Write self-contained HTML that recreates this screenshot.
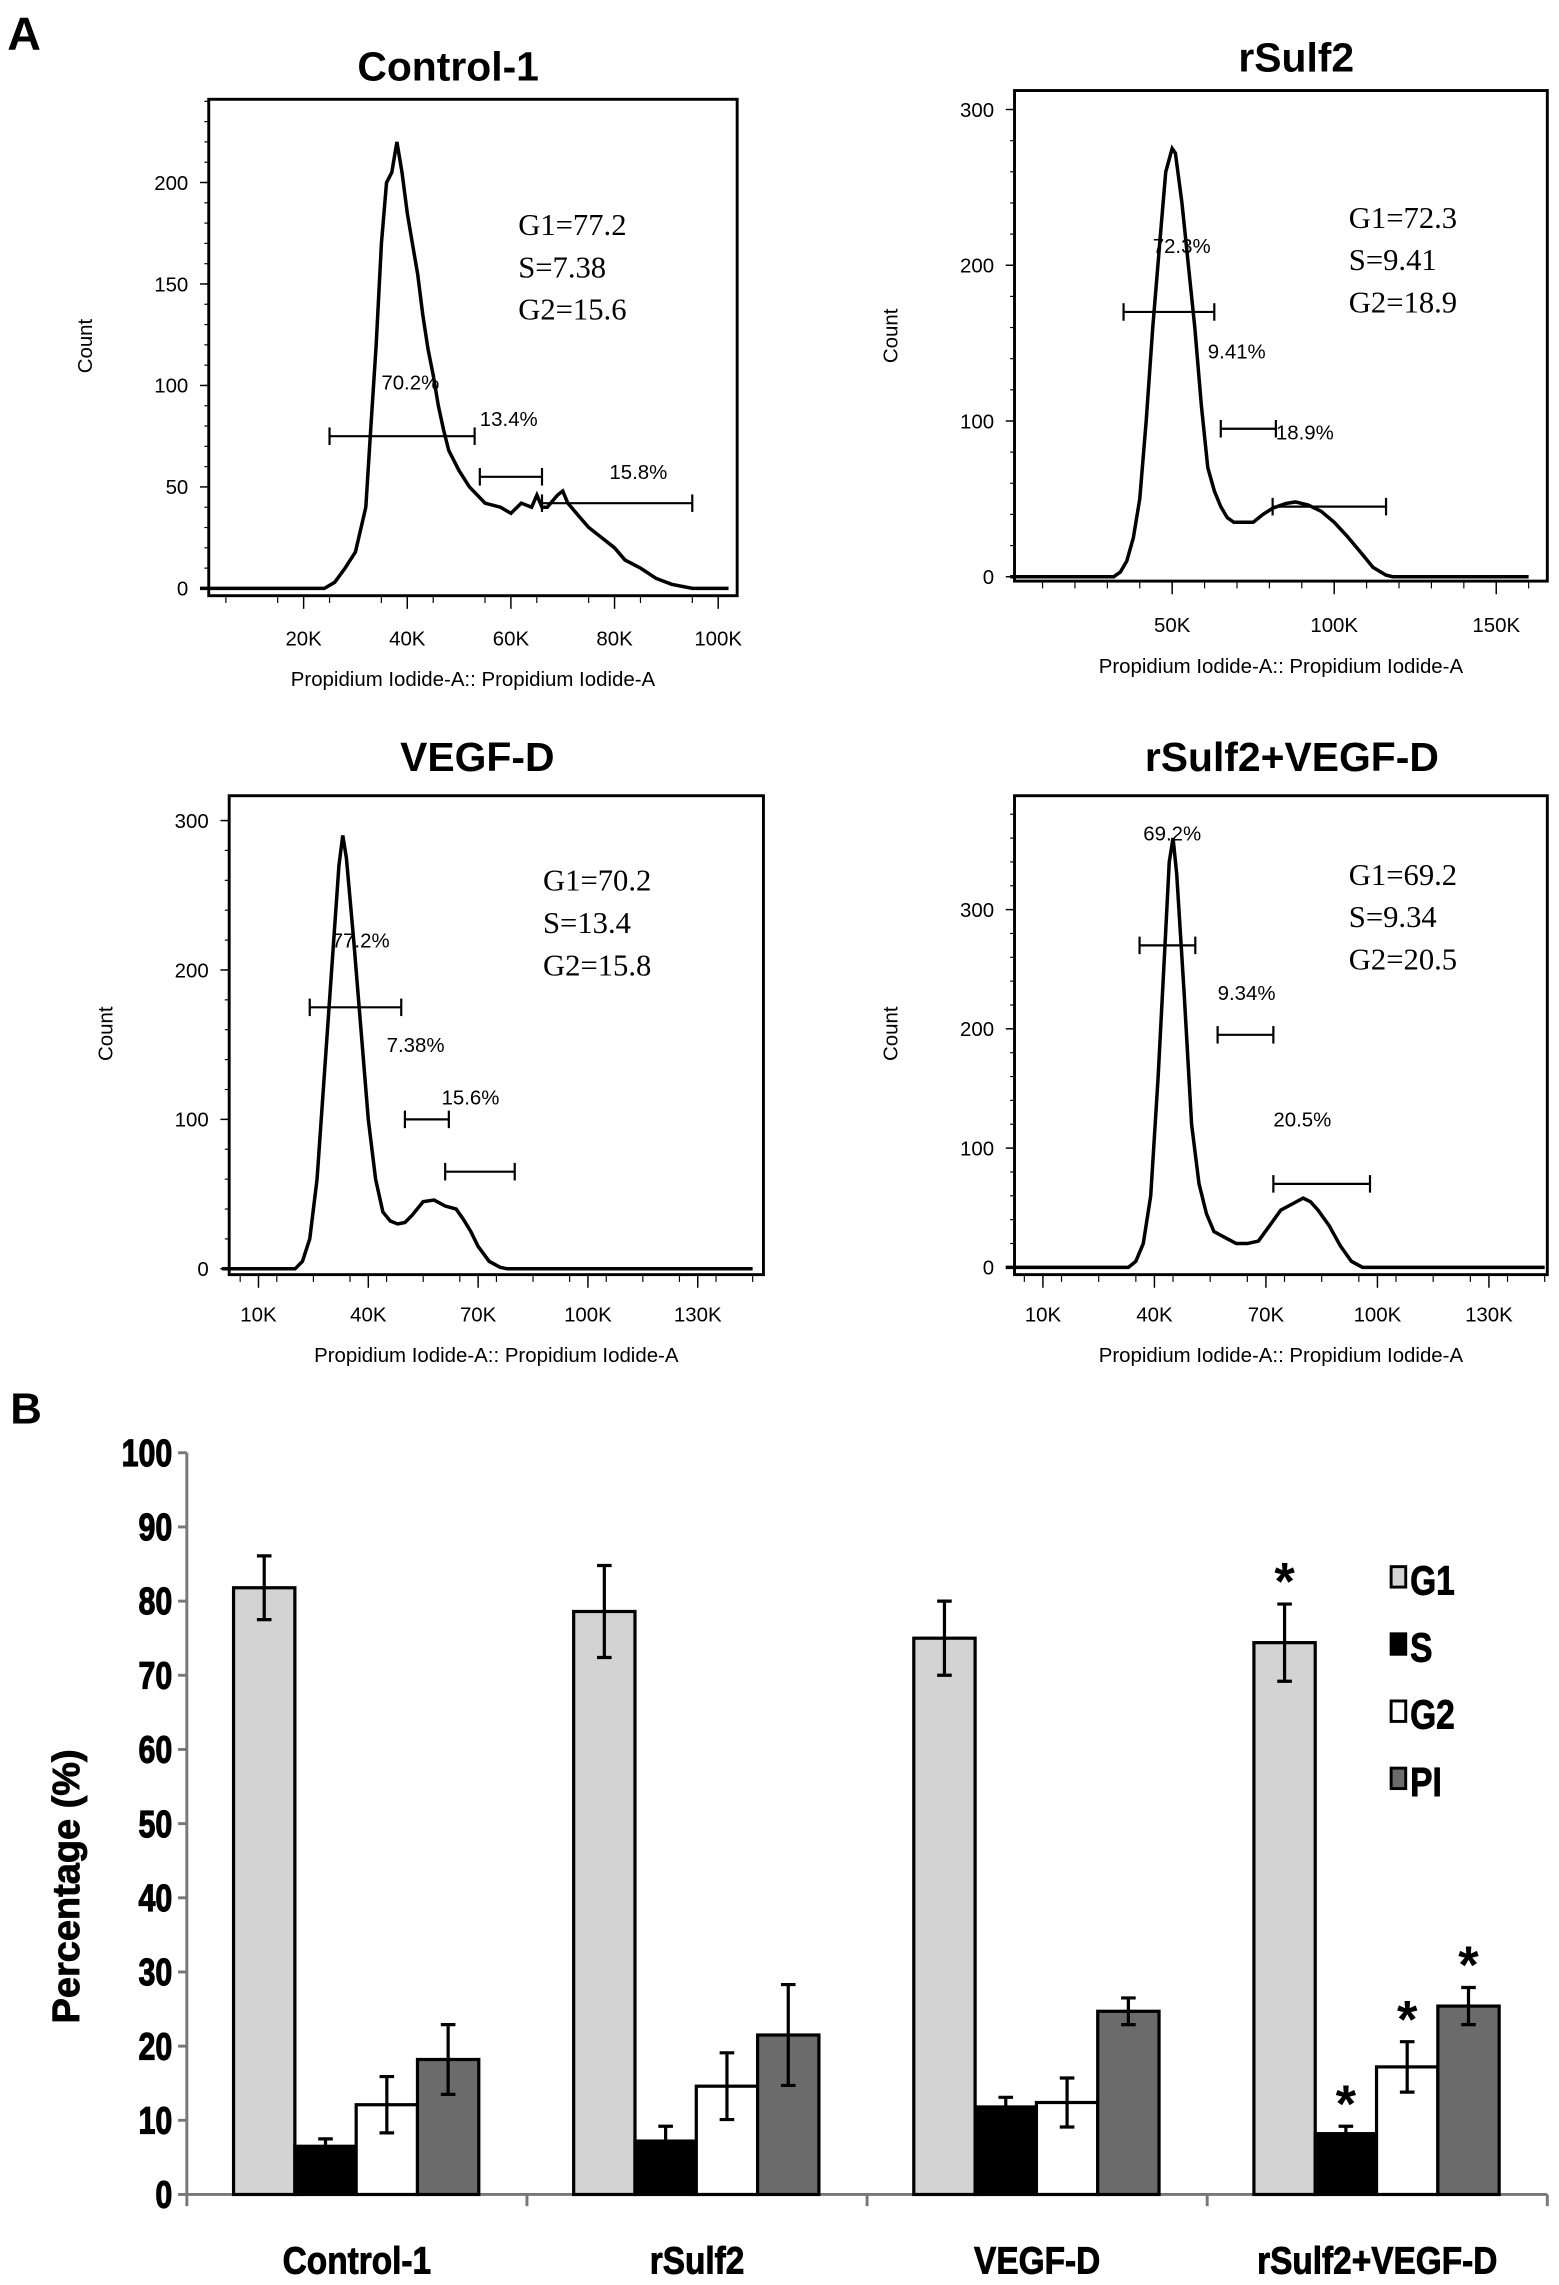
<!DOCTYPE html>
<html><head><meta charset="utf-8"><style>
html,body{margin:0;padding:0;background:#fff}
svg{display:block}
text{font-family:"Liberation Sans",sans-serif}
.serif{font-family:"Liberation Serif",serif}
</style></head><body>
<svg id="fig" width="1559" height="2285" viewBox="0 0 1068 1565" preserveAspectRatio="none" xmlns="http://www.w3.org/2000/svg">
<rect width="1068" height="1565" fill="#fff"/>
<text x="5" y="34" font-size="32" font-weight="bold">A</text>
<text x="7" y="975" font-size="30" font-weight="bold">B</text>
<g id="hists"></g>
<g id="bars"></g>
</svg>
<script>
// ---------- Histogram data ----------
const h1Curve=[[0,0],[24,0],[26,3],[28,10],[30,18],[32,40],[33,80],[34,120],[35,170],[36,200],[37,205],[38,220],[39,205],[40,185],[41,170],[42,155],[43,135],[44,118],[45,105],[46,90],[47,78],[48,68],[50,58],[52,50],[55,42],[58,40],[60,37],[62,42],[64,40],[65,46],[66,40],[67,40],[69,46],[70,48],[71,42],[73,36],[75,30],[78,24],[80,20],[82,14],[85,10],[88,5],[91,2],[95,0],[102,0]];
const h2Curve=[[0,0],[32,0],[34,3],[36,10],[38,25],[40,50],[42,100],[44,160],[46,210],[48,260],[50,275],[51,272],[53,240],[55,200],[57,160],[59,110],[61,70],[63,55],[65,45],[67,38],[69,35],[72,35],[75,35],[78,40],[81,44],[85,47],[88,48],[92,46],[96,42],[100,35],[104,26],[108,16],[112,6],[116,1],[118,0],[160,0]];
const h3Curve=[[0,0],[20,0],[22,5],[24,20],[26,60],[28,130],[30,200],[32,270],[33,290],[34,275],[36,220],[38,160],[40,100],[42,60],[44,38],[46,32],[48,30],[50,31],[52,36],[55,45],[58,46],[61,42],[64,40],[66,33],[68,25],[70,15],[73,5],[76,1],[78,0],[145,0]];
const h4Curve=[[0,0],[33,0],[35,5],[37,20],[39,60],[41,160],[43,280],[44,340],[45,360],[46,330],[48,230],[50,120],[52,70],[54,45],[56,30],[59,25],[62,20],[65,20],[68,22],[71,35],[74,48],[77,53],[80,58],[82,55],[84,48],[87,35],[90,18],[93,5],[96,0],[145,0]];
const h1Gates=[[25,53,75,"70.2%",35,98],[54,66,55,"13.4%",54,80],[66,95,42,"15.8%",79,54]];
const h2Gates=[[35,63,170,"72.3%",44,208],[65,82,95,"9.41%",61,140],[81,116,45,"18.9%",82,88]];
const h3Gates=[[24,49,175,"77.2%",30,215],[50,62,100,"7.38%",45,145],[61,80,65,"15.6%",60,110]];
const h4Gates=[[36,51,270,"69.2%",37,358],[57,72,195,"9.34%",57,224],[72,98,70,"20.5%",72,118]];
const h1Stats=["G1=77.2","S=7.38","G2=15.6"];
const h2Stats=["G1=72.3","S=9.41","G2=18.9"];
const h3Stats=["G1=70.2","S=13.4","G2=15.8"];
const h4Stats=["G1=69.2","S=9.34","G2=20.5"];
const h1YTicks=[0,50,100,150,200];
const h2YTicks=[0,100,200,300];
const h3YTicks=[0,100,200,300];
const h4YTicks=[0,100,200,300];
const h1XTicks=[20,40,60,80,100];
const h2XTicks=[50,100,150];
const h3XTicks=[10,40,70,100,130];
const h4XTicks=[10,40,70,100,130];

// ---------- Bar chart data ----------
const groups=["Control-1","rSulf2","VEGF-D","rSulf2+VEGF-D"];
const seriesNames=["G1","S","G2","PI"];
const g1Vals=[81.8,78.6,75.0,74.4];
const g1Err=[4.3,6.2,5.0,5.2];
const sVals=[6.5,7.2,11.8,8.2];
const sErr=[1.0,2.0,1.3,1.0];
const g2Vals=[12.1,14.6,12.4,17.2];
const g2Err=[3.8,4.5,3.3,3.4];
const piVals=[18.2,21.5,24.7,25.4];
const piErr=[4.7,6.8,1.8,2.5];
const starG1=[0,0,0,1],starS=[0,0,0,1],starG2=[0,0,0,1],starPI=[0,0,0,1];
const yTicksB=[0,10,20,30,40,50,60,70,80,90,100];

const NS="http://www.w3.org/2000/svg";
function mk(parent,tag,attrs,txt){const e=document.createElementNS(NS,tag);for(const k in attrs)e.setAttribute(k,attrs[k]);if(txt!==undefined)e.textContent=txt;parent.appendChild(e);return e;}

const panels=[
 {name:"control-1",title:"Control-1",box:[143,68,505,408],tx:307,ty:55,x0:137,xs:(492-137)/100,y0:403,ys:(403-125)/200,curve:h1Curve,gates:h1Gates,stats:h1Stats,yt:h1YTicks,xt:h1XTicks,xmin:5,xmax:100,stx:355,sty:161,cx:63,cy:237,xly:442,xll:470},
 {name:"rsulf2",title:"rSulf2",box:[695,62,1060,398],tx:888,ty:49,x0:692,xs:(1025-692)/150,y0:395,ys:(395-75)/300,curve:h2Curve,gates:h2Gates,stats:h2Stats,yt:h2YTicks,xt:h2XTicks,xmin:10,xmax:160,stx:924,sty:156,cx:615,cy:230,xly:433,xll:461},
 {name:"vegf-d",title:"VEGF-D",box:[157,545,523,873],tx:327,ty:528,x0:152,xs:(478-152)/130,y0:869,ys:(869-562)/300,curve:h3Curve,gates:h3Gates,stats:h3Stats,yt:h3YTicks,xt:h3XTicks,xmin:5,xmax:145,stx:372,sty:610,cx:77,cy:708,xly:905,xll:933},
 {name:"rsulf2-vegf-d",title:"rSulf2+VEGF-D",box:[695,545,1060,873],tx:885,ty:528,x0:689,xs:(1020-689)/130,y0:868,ys:(868-623)/300,curve:h4Curve,gates:h4Gates,stats:h4Stats,yt:h4YTicks,xt:h4XTicks,xmin:5,xmax:145,stx:924,sty:606,cx:615,cy:708,xly:905,xll:933}
];
const H=document.getElementById('hists');
panels.forEach(p=>{
  const g=mk(H,'g',{});
  
  
  const X=v=>p.x0+v*p.xs, Y=v=>p.y0-v*p.ys;
  const [x1,y1,x2,y2]=p.box;
  const t=mk(g,'text',{x:p.tx,y:p.ty,'font-size':28,'font-weight':'bold','text-anchor':'middle'},p.title);
  
  const r=mk(g,'rect',{x:x1,y:y1,width:x2-x1,height:y2-y1,fill:'none',stroke:'#000','stroke-width':2});
  
  p.yt.forEach(v=>{mk(g,'line',{x1:x1-6,x2:x1,y1:Y(v),y2:Y(v),stroke:'#000','stroke-width':1});
    const l=mk(g,'text',{x:x1-14,y:Y(v)+5,'font-size':14,'text-anchor':'end'},v);
    });
  const step=(p.yt[1]-p.yt[0])/5;
  for(let v=0;Y(v)>y1;v+=step){mk(g,'line',{x1:x1-3,x2:x1,y1:Y(v),y2:Y(v),stroke:'#000','stroke-width':0.8});}
  for(let v=p.xmin;X(v)<=x2+3;v+=10){mk(g,'line',{x1:X(v),x2:X(v),y1:y2+1,y2:y2+5,stroke:'#000','stroke-width':0.8});}
  p.xt.forEach(v=>{mk(g,'line',{x1:X(v),x2:X(v),y1:y2,y2:y2+9,stroke:'#000','stroke-width':1});
    const l=mk(g,'text',{x:X(v),y:p.xly,'font-size':14,'text-anchor':'middle'},v+'K');
    });
  const xl=mk(g,'text',{x:(x1+x2)/2,y:p.xll,'font-size':14,'text-anchor':'middle'},'Propidium Iodide-A:: Propidium Iodide-A');
  
  const yl=mk(g,'text',{x:p.cx,y:p.cy,'font-size':14,'text-anchor':'middle',transform:`rotate(-90 ${p.cx} ${p.cy})`},'Count');
  
  const d=p.curve.map((pt,i)=>(i?'L':'M')+Math.min(X(pt[0]),x2).toFixed(1)+','+Y(pt[1]).toFixed(1)).join(' ');
  const c=mk(g,'path',{d:d,fill:'none',stroke:'#000','stroke-width':2.4});
  
  p.gates.forEach(gt=>{
    const gg=mk(g,'g',{stroke:'#000','stroke-width':1.5});
    
    mk(gg,'line',{x1:X(gt[0]),x2:X(gt[1]),y1:Y(gt[2]),y2:Y(gt[2])});
    mk(gg,'line',{x1:X(gt[0]),x2:X(gt[0]),y1:Y(gt[2])-6,y2:Y(gt[2])+6});
    mk(gg,'line',{x1:X(gt[1]),x2:X(gt[1]),y1:Y(gt[2])-6,y2:Y(gt[2])+6});
    const gl=mk(g,'text',{x:X(gt[4]),y:Y(gt[5]),'font-size':14},gt[3]);
    
  });
  p.stats.forEach((s,i)=>{const st=mk(g,'text',{x:p.stx,y:p.sty+i*29,'font-size':21,class:'serif'},s);
    });
});

// ---------- Bar chart ----------
const B=document.getElementById('bars');


const ax0=128, ax1=1060, by0=1503, by100=995;
const YB=v=>by0-(by0-by100)*v/100;
const gw=(ax1-ax0)/groups.length, bw=42, boff=32;
const cols=['#d3d3d3','#000','#fff','#6b6b6b'];
const vals=[g1Vals,sVals,g2Vals,piVals], errs=[g1Err,sErr,g2Err,piErr], stars=[starG1,starS,starG2,starPI];
mk(B,'line',{x1:ax0,x2:ax0,y1:by100,y2:by0,stroke:'#777','stroke-width':2});
mk(B,'line',{x1:ax0,x2:ax1,y1:by0,y2:by0,stroke:'#777','stroke-width':2});
yTicksB.forEach(v=>{mk(B,'line',{x1:ax0-6,x2:ax0,y1:YB(v),y2:YB(v),stroke:'#777','stroke-width':2});
  const l=mk(B,'text',{x:ax0-10,y:YB(v)+9,'font-size':26,'font-weight':'bold','text-anchor':'end',stroke:'#000','stroke-width':0.8,transform:`translate(${ax0-10} 0) scale(0.8 1) translate(${-(ax0-10)} 0)`},v);
  });
for(let i=0;i<=groups.length;i++){mk(B,'line',{x1:ax0+i*gw,x2:ax0+i*gw,y1:by0,y2:by0+8,stroke:'#777','stroke-width':2});}
groups.forEach((gname,i)=>{
  const cx=ax0+i*gw+gw/2;
  const l=mk(B,'text',{x:cx,y:1557,'font-size':26,'font-weight':'bold','text-anchor':'middle',stroke:'#000','stroke-width':0.6,transform:`translate(${cx} 0) scale(0.88 1) translate(${-cx} 0)`},gname);
  
  for(let s=0;s<4;s++){
    const x=ax0+i*gw+boff+s*bw, v=vals[s][i], e=errs[s][i];
    const r=mk(B,'rect',{x:x,y:YB(v),width:bw,height:by0-YB(v),fill:cols[s],stroke:'#000','stroke-width':2.2});
    
    
    const ex=x+bw/2;
    const eb=mk(B,'path',{d:`M${ex},${YB(v-e)} L${ex},${YB(v+e)} M${ex-5},${YB(v-e)} L${ex+5},${YB(v-e)} M${ex-5},${YB(v+e)} L${ex+5},${YB(v+e)}`,stroke:'#000','stroke-width':2.2,fill:'none'});
    
    if(stars[s][i]){const st=mk(B,'text',{x:ex,y:YB(v+e)-3,'font-size':36,'font-weight':'bold','text-anchor':'middle'},'*');
      }
  }
});
const yt=mk(B,'text',{x:54,y:1292,'font-size':26,'font-weight':'bold','text-anchor':'middle',stroke:'#000','stroke-width':0.6,transform:'rotate(-90 54 1292)'},'Percentage (%)');

seriesNames.forEach((n,s)=>{
  const ly=1081+s*46;
  const lg=mk(B,'g',{});
  
  
  mk(lg,'rect',{x:953,y:ly-8,width:10,height:14,fill:cols[s],stroke:'#000','stroke-width':2});
  mk(lg,'text',{x:966,y:ly+11,'font-size':28,'font-weight':'bold',stroke:'#000','stroke-width':0.6,transform:`translate(966 0) scale(0.82 1) translate(-966 0)`},n);
});
</script>
</body></html>
